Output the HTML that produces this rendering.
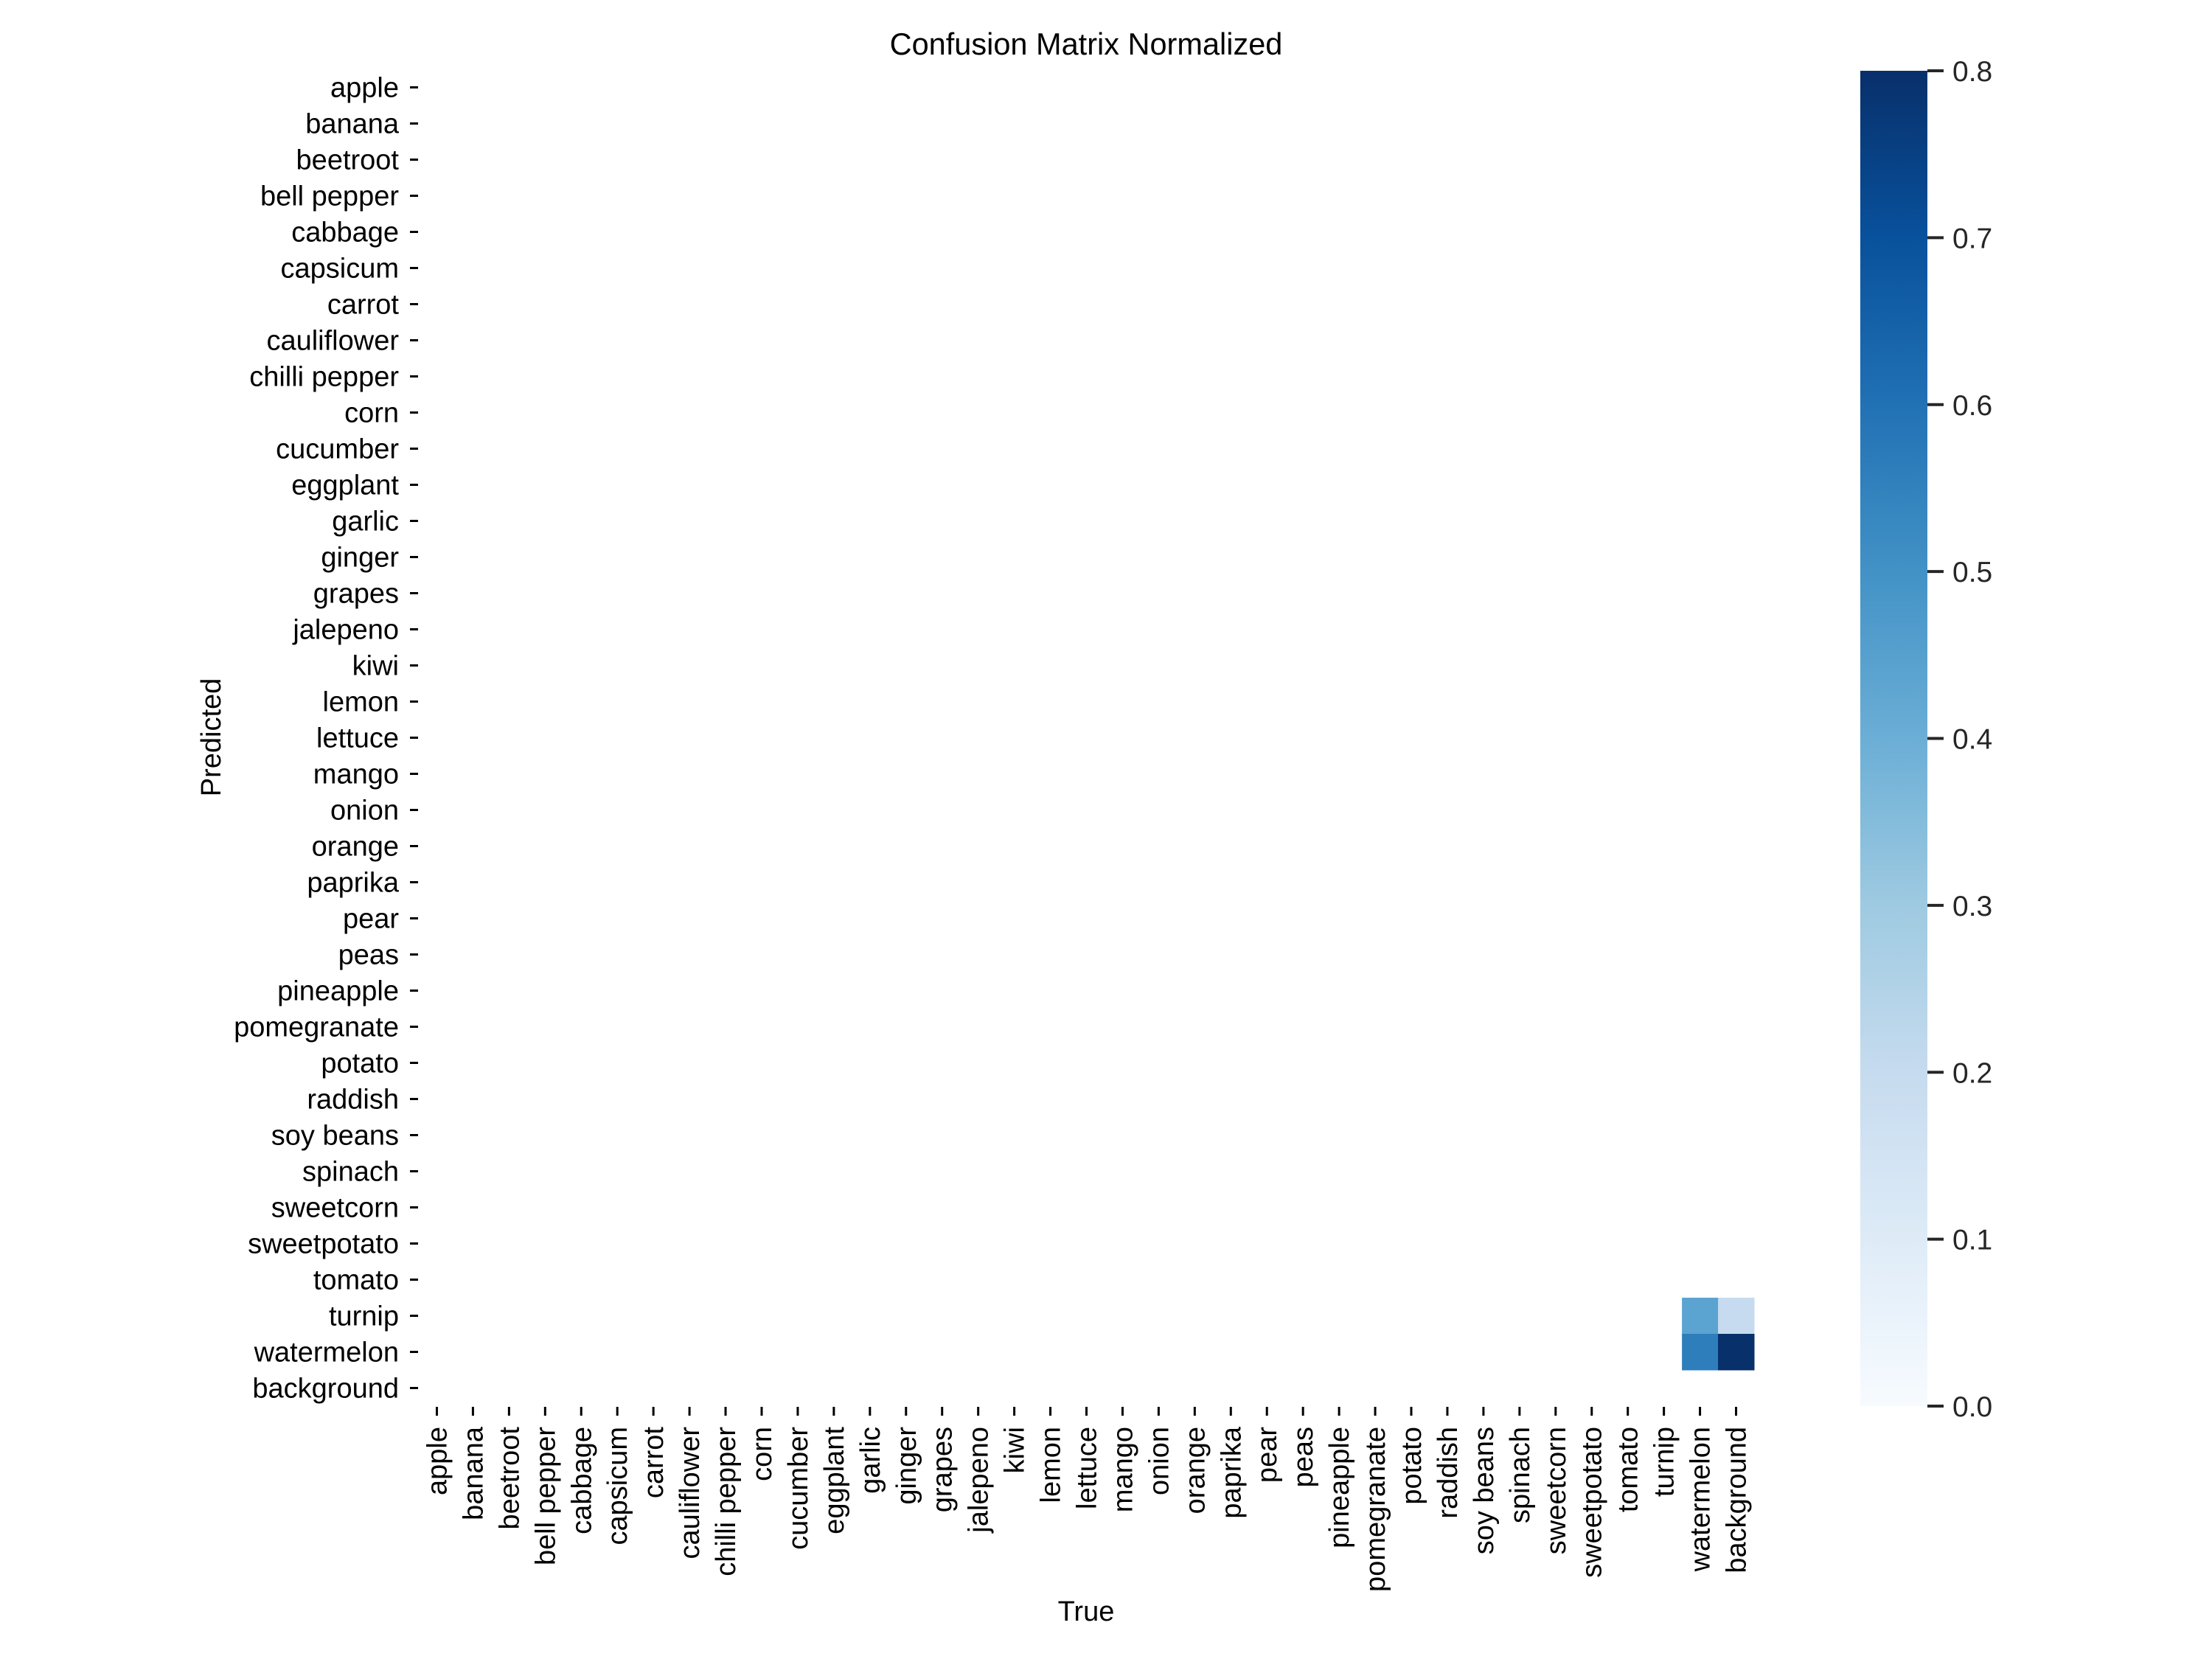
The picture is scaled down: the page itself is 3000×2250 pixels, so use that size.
<!DOCTYPE html>
<html><head><meta charset="utf-8"><style>
html,body{margin:0;padding:0;background:#fff;}
svg{display:block;}
text{font-family:"Liberation Sans",Arial,sans-serif;}
</style></head><body>
<svg id="chart" width="3000" height="2250" viewBox="0 0 3000 2250" xmlns="http://www.w3.org/2000/svg">
<defs>
<linearGradient id="bluesGrad" x1="0" y1="1" x2="0" y2="0">
<stop offset="0" stop-color="#f7fbff"/><stop offset="0.125" stop-color="#deebf7"/><stop offset="0.25" stop-color="#c6dbef"/><stop offset="0.375" stop-color="#9ecae1"/><stop offset="0.5" stop-color="#6baed6"/><stop offset="0.625" stop-color="#4292c6"/><stop offset="0.75" stop-color="#2171b5"/><stop offset="0.875" stop-color="#08519c"/><stop offset="1" stop-color="#08306b"/>
</linearGradient>
</defs>
<text x="1473" y="74" font-size="41.5" text-anchor="middle" fill="#000">Confusion Matrix Normalized</text>
<text x="1473" y="2198" font-size="38" text-anchor="middle" fill="#000">True</text>
<text x="0" y="0" font-size="38" text-anchor="middle" fill="#000" transform="translate(299,1000) rotate(-90)">Predicted</text>
<g id="cells"></g>
<g id="yticks"></g>
<g id="xticks"></g>
<rect x="2523" y="96" width="91" height="1811" fill="url(#bluesGrad)"/>
<g id="cbticks"></g>
</svg>
<script>
const categories = ["apple","banana","beetroot","bell pepper","cabbage","capsicum","carrot","cauliflower","chilli pepper","corn","cucumber","eggplant","garlic","ginger","grapes","jalepeno","kiwi","lemon","lettuce","mango","onion","orange","paprika","pear","peas","pineapple","pomegranate","potato","raddish","soy beans","spinach","sweetcorn","sweetpotato","tomato","turnip","watermelon","background"];
// nonzero cells: [predicted row, true column, value]
const cellRows = ["turnip","turnip","watermelon","watermelon"];
const cellCols = ["watermelon","background","watermelon","background"];
const cellValues = [0.44, 0.20, 0.56, 0.80];
const cbTicks = [0.0,0.1,0.2,0.3,0.4,0.5,0.6,0.7,0.8];
const vmin = 0, vmax = 0.8;

const NS = "http://www.w3.org/2000/svg";
const L = 568, R = 2379, T = 94, B = 1907;
const n = categories.length;
const cw = (R - L) / n, ch = (B - T) / n;
function xPos(name){ return L + categories.indexOf(name) * cw; }
function yPos(name){ return T + categories.indexOf(name) * ch; }
function cbY(v){ return B - (v - vmin) / (vmax - vmin) * (B - 96); }
const stops = [[0,"#f7fbff"],[0.125,"#deebf7"],[0.25,"#c6dbef"],[0.375,"#9ecae1"],[0.5,"#6baed6"],[0.625,"#4292c6"],[0.75,"#2171b5"],[0.875,"#08519c"],[1,"#08306b"]];
function hex(h){return [1,3,5].map(i=>parseInt(h.substr(i,2),16));}
function blues(v){
  let t = Math.max(0, Math.min(1, (v - vmin) / (vmax - vmin)));
  for (let i = 0; i < stops.length - 1; i++) {
    if (t <= stops[i+1][0]) {
      const f = (t - stops[i][0]) / (stops[i+1][0] - stops[i][0]);
      const a = hex(stops[i][1]), b = hex(stops[i+1][1]);
      return "rgb(" + a.map((c,k)=>Math.round(c + (b[k]-c)*f)).join(",") + ")";
    }
  }
  return stops[stops.length-1][1];
}
function mk(tag, attrs, parent){
  const e = document.createElementNS(NS, tag);
  for (const k in attrs) e.setAttribute(k, attrs[k]);
  parent.appendChild(e);
  return e;
}
const cells = document.getElementById("cells");
for (let i = 0; i < cellValues.length; i++) {
  const r = mk("rect", {x: xPos(cellCols[i]), y: yPos(cellRows[i]), width: cw + 0.5, height: ch + 0.5, fill: blues(cellValues[i])}, cells);
  
  
}
const yt = document.getElementById("yticks");
const xt = document.getElementById("xticks");
categories.forEach((c, i) => {
  const cy = T + (i + 0.5) * ch;
  const ty = mk("text", {x: 541, y: cy + 13, "font-size": 38, "text-anchor": "end", fill: "#000"}, yt);
  ty.textContent = c;
  
  
  const ly = mk("line", {x1: 556, x2: 567, y1: cy, y2: cy, stroke: "#000", "stroke-width": 3}, yt);
  
  
  const cx = L + (i + 0.5) * cw;
  const lx = mk("line", {x1: cx, x2: cx, y1: 1908, y2: 1920, stroke: "#000", "stroke-width": 3}, xt);
  
  
  const tx = mk("text", {x: 0, y: 0, "font-size": 38, "text-anchor": "end", fill: "#000", transform: "translate(" + (cx + 13) + ",1935) rotate(-90)"}, xt);
  tx.textContent = c;
  
  
});
const cb = document.getElementById("cbticks");
cbTicks.forEach(v => {
  const y = cbY(v);
  const l = mk("line", {x1: 2614, x2: 2636, y1: y, y2: y, stroke: "#262626", "stroke-width": 4}, cb);
  
  
  const t = mk("text", {x: 2648, y: y + 14, "font-size": 39, fill: "#262626"}, cb);
  t.textContent = v.toFixed(1);
  
  
});
</script>
</body></html>
